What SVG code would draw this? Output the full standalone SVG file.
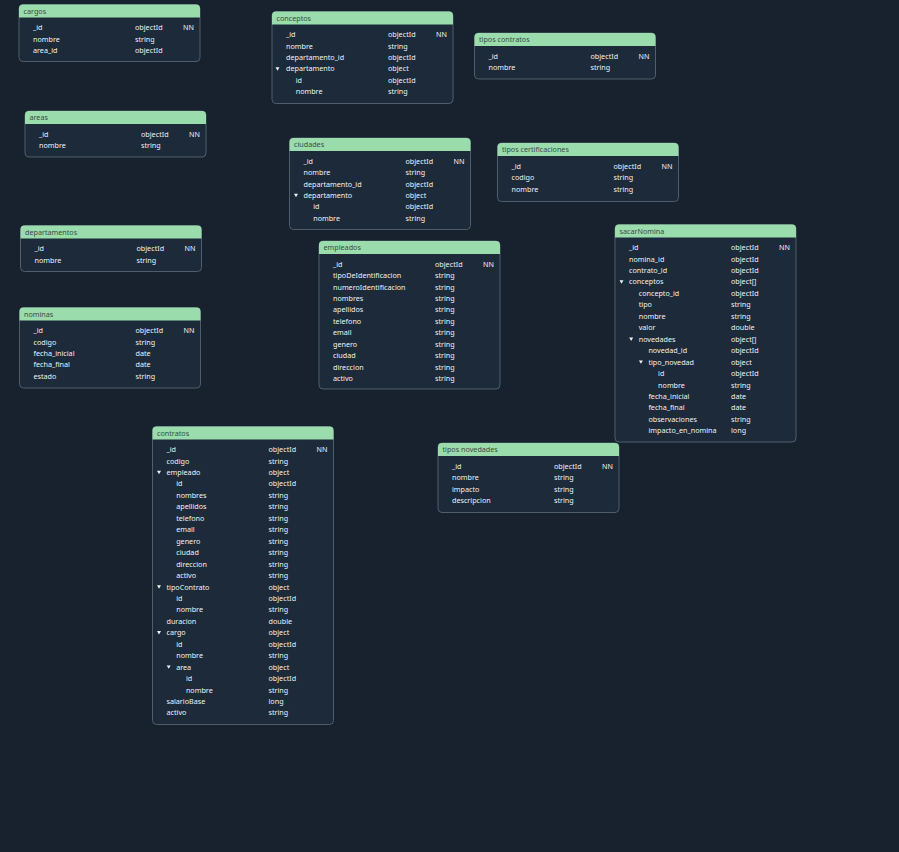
<svg xmlns="http://www.w3.org/2000/svg" xmlns:xlink="http://www.w3.org/1999/xlink" width="899" height="852" viewBox="0 0 899 852">
<style>
.bg{fill:#17222e}
.box{fill:#1d2a39;stroke:#4e5e6a;stroke-width:1}
.hd{fill:#9adcab}
text{font-family:"Noto Sans","Open Sans","Liberation Sans",sans-serif;font-size:7.2px;fill:#eef2f5}
text.h{fill:#3a4c48;font-size:7.2px}
.ar{fill:#eef2f5}
</style>
<defs>
<path id="hp" d="M0,13 V4 Q0,0 4,0 H177 Q181,0 181,4 V13 Z"/>
<path id="arr" d="M-2,-1.6 L2,-1.6 L0,1.8 Z"/>
</defs>
<rect class="bg" x="0" y="0" width="899" height="852"/>
<g id="connectors"/>

<g id="cargos" transform="translate(19,4.5)">
<rect class="box" width="181" height="57" rx="4"/><use href="#hp" class="hd"/>
<text class="h" x="4.5" y="9.3">cargos</text>
<text x="14" y="25.6">_id</text><text x="116" y="25.6">objectId</text><text x="164" y="25.6">NN</text>
<text x="14" y="37.05">nombre</text><text x="116" y="37.05">string</text>
<text x="14" y="48.5">area_id</text><text x="116" y="48.5">objectId</text>
</g>

<g id="areas" transform="translate(25,111)">
<rect class="box" width="181" height="46" rx="4"/><use href="#hp" class="hd"/>
<text class="h" x="4.5" y="9.3">areas</text>
<text x="14" y="25.6">_id</text><text x="116" y="25.6">objectId</text><text x="164" y="25.6">NN</text>
<text x="14" y="37.05">nombre</text><text x="116" y="37.05">string</text>
</g>

<g id="departamentos" transform="translate(20.5,225.5)">
<rect class="box" width="181" height="46" rx="4"/><use href="#hp" class="hd"/>
<text class="h" x="4.5" y="9.3">departamentos</text>
<text x="14" y="25.6">_id</text><text x="116" y="25.6">objectId</text><text x="164" y="25.6">NN</text>
<text x="14" y="37.05">nombre</text><text x="116" y="37.05">string</text>
</g>

<g id="nominas" transform="translate(19.5,307.5)">
<rect class="box" width="181" height="80.5" rx="4"/><use href="#hp" class="hd"/>
<text class="h" x="4.5" y="9.3">nominas</text>
<text x="14" y="25.6">_id</text><text x="116" y="25.6">objectId</text><text x="164" y="25.6">NN</text>
<text x="14" y="37.05">codigo</text><text x="116" y="37.05">string</text>
<text x="14" y="48.5">fecha_inicial</text><text x="116" y="48.5">date</text>
<text x="14" y="59.95">fecha_final</text><text x="116" y="59.95">date</text>
<text x="14" y="71.4">estado</text><text x="116" y="71.4">string</text>
</g>

<g id="conceptos" transform="translate(272,11.5)">
<rect class="box" width="181" height="92" rx="4"/><use href="#hp" class="hd"/>
<text class="h" x="4.5" y="9.3">conceptos</text>
<text x="14" y="25.6">_id</text><text x="116" y="25.6">objectId</text><text x="164" y="25.6">NN</text>
<text x="14" y="37.05">nombre</text><text x="116" y="37.05">string</text>
<text x="14" y="48.5">departamento_id</text><text x="116" y="48.5">objectId</text>
<use href="#arr" class="ar" x="5.5" y="57.35"/><text x="14" y="59.95">departamento</text><text x="116" y="59.95">object</text>
<text x="23.7" y="71.4">id</text><text x="116" y="71.4">objectId</text>
<text x="23.7" y="82.85">nombre</text><text x="116" y="82.85">string</text>
</g>

<g id="tipos-contratos" transform="translate(474.5,33)">
<rect class="box" width="181" height="46" rx="4"/><use href="#hp" class="hd"/>
<text class="h" x="4.5" y="9.3">tipos contratos</text>
<text x="14" y="25.6">_id</text><text x="116" y="25.6">objectId</text><text x="164" y="25.6">NN</text>
<text x="14" y="37.05">nombre</text><text x="116" y="37.05">string</text>
</g>

<g id="ciudades" transform="translate(289.5,138)">
<rect class="box" width="181" height="91.5" rx="4"/><use href="#hp" class="hd"/>
<text class="h" x="4.5" y="9.3">ciudades</text>
<text x="14" y="25.6">_id</text><text x="116" y="25.6">objectId</text><text x="164" y="25.6">NN</text>
<text x="14" y="37.05">nombre</text><text x="116" y="37.05">string</text>
<text x="14" y="48.5">departamento_id</text><text x="116" y="48.5">objectId</text>
<use href="#arr" class="ar" x="6.5" y="57.35"/><text x="14" y="59.95">departamento</text><text x="116" y="59.95">object</text>
<text x="23.7" y="71.4">id</text><text x="116" y="71.4">objectId</text>
<text x="23.7" y="82.85">nombre</text><text x="116" y="82.85">string</text>
</g>

<g id="tipos-certificaciones" transform="translate(497.5,143)">
<rect class="box" width="181" height="58.5" rx="4"/><use href="#hp" class="hd"/>
<text class="h" x="4.5" y="9.3">tipos certificaciones</text>
<text x="14" y="25.6">_id</text><text x="116" y="25.6">objectId</text><text x="164" y="25.6">NN</text>
<text x="14" y="37.05">codigo</text><text x="116" y="37.05">string</text>
<text x="14" y="48.5">nombre</text><text x="116" y="48.5">string</text>
</g>

<g id="empleados" transform="translate(319,241)">
<rect class="box" width="181" height="148" rx="4"/><use href="#hp" class="hd"/>
<text class="h" x="4.5" y="9.3">empleados</text>
<text x="14" y="25.6">_id</text><text x="116" y="25.6">objectId</text><text x="164" y="25.6">NN</text>
<text x="14" y="37.05">tipoDeIdentificacion</text><text x="116" y="37.05">string</text>
<text x="14" y="48.5">numeroIdentificacion</text><text x="116" y="48.5">string</text>
<text x="14" y="59.95">nombres</text><text x="116" y="59.95">string</text>
<text x="14" y="71.4">apellidos</text><text x="116" y="71.4">string</text>
<text x="14" y="82.85">telefono</text><text x="116" y="82.85">string</text>
<text x="14" y="94.3">email</text><text x="116" y="94.3">string</text>
<text x="14" y="105.75">genero</text><text x="116" y="105.75">string</text>
<text x="14" y="117.2">ciudad</text><text x="116" y="117.2">string</text>
<text x="14" y="128.65">direccion</text><text x="116" y="128.65">string</text>
<text x="14" y="140.1">activo</text><text x="116" y="140.1">string</text>
</g>

<g id="sacarNomina" transform="translate(615,224.5)">
<rect class="box" width="181" height="217.5" rx="4"/><use href="#hp" class="hd"/>
<text class="h" x="4.5" y="9.3">sacarNomina</text>
<text x="14" y="25.6">_id</text><text x="116" y="25.6">objectId</text><text x="164" y="25.6">NN</text>
<text x="14" y="37.05">nomina_id</text><text x="116" y="37.05">objectId</text>
<text x="14" y="48.5">contrato_id</text><text x="116" y="48.5">objectId</text>
<use href="#arr" class="ar" x="6.5" y="57.35"/><text x="14" y="59.95">conceptos</text><text x="116" y="59.95">object[]</text>
<text x="23.7" y="71.4">concepto_id</text><text x="116" y="71.4">objectId</text>
<text x="23.7" y="82.85">tipo</text><text x="116" y="82.85">string</text>
<text x="23.7" y="94.3">nombre</text><text x="116" y="94.3">string</text>
<text x="23.7" y="105.75">valor</text><text x="116" y="105.75">double</text>
<use href="#arr" class="ar" x="16.2" y="114.6"/><text x="23.7" y="117.2">novedades</text><text x="116" y="117.2">object[]</text>
<text x="33.4" y="128.65">novedad_id</text><text x="116" y="128.65">objectId</text>
<use href="#arr" class="ar" x="25.9" y="137.5"/><text x="33.4" y="140.1">tipo_novedad</text><text x="116" y="140.1">object</text>
<text x="43.1" y="151.55">id</text><text x="116" y="151.55">objectId</text>
<text x="43.1" y="163">nombre</text><text x="116" y="163">string</text>
<text x="33.4" y="174.45">fecha_inicial</text><text x="116" y="174.45">date</text>
<text x="33.4" y="185.9">fecha_final</text><text x="116" y="185.9">date</text>
<text x="33.4" y="197.35">observaciones</text><text x="116" y="197.35">string</text>
<text x="33.4" y="208.8">impacto_en_nomina</text><text x="116" y="208.8">long</text>
</g>

<g id="contratos" transform="translate(152.5,426.5)">
<rect class="box" width="181" height="298" rx="4"/><use href="#hp" class="hd"/>
<text class="h" x="4.5" y="9.3">contratos</text>
<text x="14" y="25.6">_id</text><text x="116" y="25.6">objectId</text><text x="164" y="25.6">NN</text>
<text x="14" y="37.05">codigo</text><text x="116" y="37.05">string</text>
<use href="#arr" class="ar" x="6.5" y="45.9"/><text x="14" y="48.5">empleado</text><text x="116" y="48.5">object</text>
<text x="23.7" y="59.95">id</text><text x="116" y="59.95">objectId</text>
<text x="23.7" y="71.4">nombres</text><text x="116" y="71.4">string</text>
<text x="23.7" y="82.85">apellidos</text><text x="116" y="82.85">string</text>
<text x="23.7" y="94.3">telefono</text><text x="116" y="94.3">string</text>
<text x="23.7" y="105.75">email</text><text x="116" y="105.75">string</text>
<text x="23.7" y="117.2">genero</text><text x="116" y="117.2">string</text>
<text x="23.7" y="128.65">ciudad</text><text x="116" y="128.65">string</text>
<text x="23.7" y="140.1">direccion</text><text x="116" y="140.1">string</text>
<text x="23.7" y="151.55">activo</text><text x="116" y="151.55">string</text>
<use href="#arr" class="ar" x="6.5" y="160.4"/><text x="14" y="163">tipoContrato</text><text x="116" y="163">object</text>
<text x="23.7" y="174.45">id</text><text x="116" y="174.45">objectId</text>
<text x="23.7" y="185.9">nombre</text><text x="116" y="185.9">string</text>
<text x="14" y="197.35">duracion</text><text x="116" y="197.35">double</text>
<use href="#arr" class="ar" x="6.5" y="206.2"/><text x="14" y="208.8">cargo</text><text x="116" y="208.8">object</text>
<text x="23.7" y="220.25">id</text><text x="116" y="220.25">objectId</text>
<text x="23.7" y="231.7">nombre</text><text x="116" y="231.7">string</text>
<use href="#arr" class="ar" x="16.2" y="240.55"/><text x="23.7" y="243.15">area</text><text x="116" y="243.15">object</text>
<text x="33.4" y="254.6">id</text><text x="116" y="254.6">objectId</text>
<text x="33.4" y="266.05">nombre</text><text x="116" y="266.05">string</text>
<text x="14" y="277.5">salarioBase</text><text x="116" y="277.5">long</text>
<text x="14" y="288.95">activo</text><text x="116" y="288.95">string</text>
</g>

<g id="tipos-novedades" transform="translate(438,443)">
<rect class="box" width="181" height="69.5" rx="4"/><use href="#hp" class="hd"/>
<text class="h" x="4.5" y="9.3">tipos novedades</text>
<text x="14" y="25.6">_id</text><text x="116" y="25.6">objectId</text><text x="164" y="25.6">NN</text>
<text x="14" y="37.05">nombre</text><text x="116" y="37.05">string</text>
<text x="14" y="48.5">impacto</text><text x="116" y="48.5">string</text>
<text x="14" y="59.95">descripcion</text><text x="116" y="59.95">string</text>
</g>
</svg>
